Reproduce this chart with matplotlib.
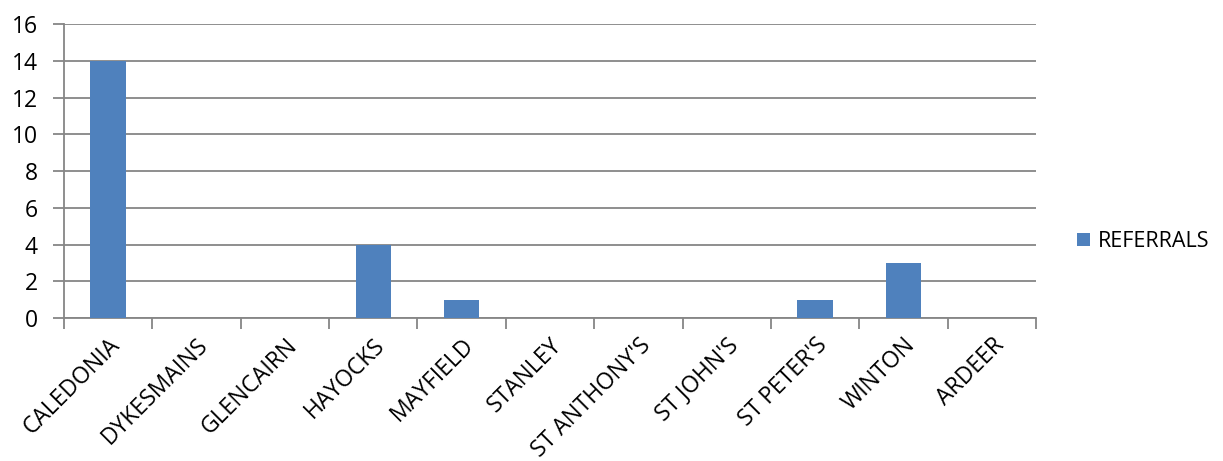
import matplotlib.pyplot as plt
import numpy as np

schools = ["CALEDONIA", "DYKESMAINS", "GLENCAIRN", "HAYOCKS", "MAYFIELD", "STANLEY",
           "ST ANTHONY'S", "ST JOHN'S", "ST PETER'S", "WINTON", "ARDEER"]
referrals = [14, 0, 0, 4, 1, 0, 0, 0, 1, 3, 0]

plt.rcParams['font.family'] = ['Open Sans', 'DejaVu Sans']

fig = plt.figure(figsize=(12.23, 4.61), dpi=100)
ax = fig.add_axes([0.0523, 0.310, 0.7948, 0.638])

grid_col = '#868686'
x = np.arange(len(schools))
ax.bar(x, referrals, width=0.4, color='#4F81BD', label='REFERRALS', zorder=3)

ax.set_xlim(-0.5, len(schools) - 0.5)
ax.set_ylim(0, 16)
ax.set_yticks(range(0, 17, 2))
ax.yaxis.grid(True, color=grid_col, linewidth=1.3, zorder=0)

# ticks sit on category boundaries, labels at category centres
ax.set_xticks(np.arange(-0.5, len(schools)), minor=False)
ax.set_xticklabels([])
ax.set_xticks(x, minor=True)
ax.set_xticklabels(schools, minor=True, rotation=45, ha='right', va='top',
                   rotation_mode='anchor', fontsize=16.5)
ax.tick_params(axis='x', which='minor', length=0, pad=11)
ax.tick_params(axis='x', which='major', length=8, width=1.3, color=grid_col)
ax.tick_params(axis='y', length=8, width=1.3, color=grid_col, labelsize=16.5, pad=11)

for side in ['top', 'right']:
    ax.spines[side].set_visible(False)
for side in ['left', 'bottom']:
    ax.spines[side].set_color(grid_col)
    ax.spines[side].set_linewidth(1.3)

ax.legend(loc='center left', bbox_to_anchor=(1.022, 0.26), frameon=False,
          fontsize=15.5, handlelength=0.6, handleheight=0.6, handletextpad=0.4)

fig.savefig('out.png', dpi=100)
